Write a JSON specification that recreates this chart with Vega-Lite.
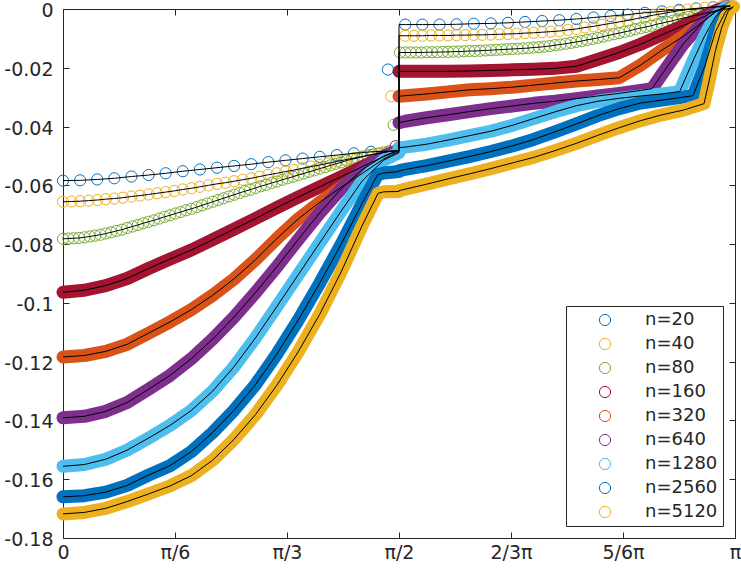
{
  "$schema": "https://vega.github.io/schema/vega-lite/v6.json",
  "width": 672,
  "height": 529,
  "autosize": {"type": "none"},
  "padding": {"left": 63, "top": 9, "right": 6, "bottom": 33},
  "config": {
    "view": {"stroke": null},
    "axis": {
      "grid": false, "title": null, "domainColor": "#262626", "tickColor": "#262626",
      "labelColor": "#262626", "labelFont": "DejaVu Sans", "labelFontSize": 19,
      "tickSize": -6, "domainWidth": 1, "tickWidth": 1, "labelFlush": false, "labelOverlap": false
    },
    "locale": {"number": {"decimal": ".", "thousands": ",", "grouping": [3], "currency": ["$", ""], "minus": "-"}}
  },
  "data": {
    "values": [
      {"n":"n=20","x":0,"y":-0.0584,"t":"p"},{"n":"n=20","x":0.08,"y":-0.0583,"t":"p"},{"n":"n=20","x":0.16,"y":-0.0580,"t":"p"},{"n":"n=20","x":0.24,"y":-0.0576,"t":"p"},
      {"n":"n=20","x":0.32,"y":-0.0570,"t":"p"},{"n":"n=20","x":0.4,"y":-0.0565,"t":"p"},{"n":"n=20","x":0.48,"y":-0.0559,"t":"p"},{"n":"n=20","x":0.56,"y":-0.0552,"t":"p"},
      {"n":"n=20","x":0.64,"y":-0.0546,"t":"p"},{"n":"n=20","x":0.72,"y":-0.0540,"t":"p"},{"n":"n=20","x":0.8,"y":-0.0534,"t":"p"},{"n":"n=20","x":0.88,"y":-0.0528,"t":"p"},
      {"n":"n=20","x":0.96,"y":-0.0521,"t":"p"},{"n":"n=20","x":1.04,"y":-0.0515,"t":"p"},{"n":"n=20","x":1.12,"y":-0.0509,"t":"p"},{"n":"n=20","x":1.2,"y":-0.0503,"t":"p"},
      {"n":"n=20","x":1.28,"y":-0.0497,"t":"p"},{"n":"n=20","x":1.36,"y":-0.0491,"t":"p"},{"n":"n=20","x":1.44,"y":-0.0486,"t":"p"},
      {"n":"n=20","x":1.519,"y":-0.0206,"t":"o"},{"n":"n=20","x":1.5707,"y":-0.0482,"t":"j"},{"n":"n=20","x":1.5709,"y":-0.0053,"t":"j"},
      {"n":"n=20","x":1.6,"y":-0.0053,"t":"p"},{"n":"n=20","x":1.68,"y":-0.0053,"t":"p"},{"n":"n=20","x":1.76,"y":-0.0053,"t":"p"},{"n":"n=20","x":1.84,"y":-0.0052,"t":"p"},
      {"n":"n=20","x":1.92,"y":-0.0050,"t":"p"},{"n":"n=20","x":2.0,"y":-0.0049,"t":"p"},{"n":"n=20","x":2.08,"y":-0.0047,"t":"p"},{"n":"n=20","x":2.16,"y":-0.0044,"t":"p"},
      {"n":"n=20","x":2.24,"y":-0.0041,"t":"p"},{"n":"n=20","x":2.32,"y":-0.0038,"t":"p"},{"n":"n=20","x":2.4,"y":-0.0034,"t":"p"},{"n":"n=20","x":2.48,"y":-0.0029,"t":"p"},
      {"n":"n=20","x":2.56,"y":-0.0024,"t":"p"},{"n":"n=20","x":2.64,"y":-0.0019,"t":"p"},{"n":"n=20","x":2.72,"y":-0.0013,"t":"p"},{"n":"n=20","x":2.8,"y":-0.0008,"t":"p"},
      {"n":"n=20","x":2.88,"y":-0.0003,"t":"p"},{"n":"n=20","x":2.96,"y":0.0002,"t":"p"},{"n":"n=20","x":3.04,"y":0.0006,"t":"p"},{"n":"n=20","x":3.12,"y":0.0009,"t":"p"},

      {"n":"n=40","x":0,"y":-0.0656,"t":"p"},{"n":"n=40","x":0.04,"y":-0.0655,"t":"p"},{"n":"n=40","x":0.08,"y":-0.0654,"t":"p"},{"n":"n=40","x":0.12,"y":-0.0652,"t":"p"},
      {"n":"n=40","x":0.16,"y":-0.0650,"t":"p"},{"n":"n=40","x":0.2,"y":-0.0647,"t":"p"},{"n":"n=40","x":0.24,"y":-0.0645,"t":"p"},{"n":"n=40","x":0.28,"y":-0.0642,"t":"p"},
      {"n":"n=40","x":0.32,"y":-0.0638,"t":"p"},{"n":"n=40","x":0.36,"y":-0.0635,"t":"p"},{"n":"n=40","x":0.4,"y":-0.0631,"t":"p"},{"n":"n=40","x":0.44,"y":-0.0627,"t":"p"},
      {"n":"n=40","x":0.48,"y":-0.0623,"t":"p"},{"n":"n=40","x":0.52,"y":-0.0619,"t":"p"},{"n":"n=40","x":0.56,"y":-0.0614,"t":"p"},{"n":"n=40","x":0.6,"y":-0.0610,"t":"p"},
      {"n":"n=40","x":0.64,"y":-0.0605,"t":"p"},{"n":"n=40","x":0.68,"y":-0.0600,"t":"p"},{"n":"n=40","x":0.72,"y":-0.0595,"t":"p"},{"n":"n=40","x":0.76,"y":-0.0591,"t":"p"},
      {"n":"n=40","x":0.8,"y":-0.0586,"t":"p"},{"n":"n=40","x":0.84,"y":-0.0581,"t":"p"},{"n":"n=40","x":0.88,"y":-0.0576,"t":"p"},{"n":"n=40","x":0.92,"y":-0.0570,"t":"p"},
      {"n":"n=40","x":0.96,"y":-0.0564,"t":"p"},{"n":"n=40","x":1.0,"y":-0.0559,"t":"p"},{"n":"n=40","x":1.04,"y":-0.0553,"t":"p"},{"n":"n=40","x":1.08,"y":-0.0548,"t":"p"},
      {"n":"n=40","x":1.12,"y":-0.0542,"t":"p"},{"n":"n=40","x":1.16,"y":-0.0536,"t":"p"},{"n":"n=40","x":1.2,"y":-0.0531,"t":"p"},{"n":"n=40","x":1.24,"y":-0.0525,"t":"p"},
      {"n":"n=40","x":1.28,"y":-0.0519,"t":"p"},{"n":"n=40","x":1.32,"y":-0.0513,"t":"p"},{"n":"n=40","x":1.36,"y":-0.0507,"t":"p"},{"n":"n=40","x":1.4,"y":-0.0502,"t":"p"},
      {"n":"n=40","x":1.44,"y":-0.0496,"t":"p"},{"n":"n=40","x":1.48,"y":-0.0491,"t":"p"},{"n":"n=40","x":1.52,"y":-0.0485,"t":"p"},
      {"n":"n=40","x":1.535,"y":-0.0297,"t":"o"},{"n":"n=40","x":1.5707,"y":-0.0482,"t":"j"},{"n":"n=40","x":1.5709,"y":-0.0091,"t":"j"},
      {"n":"n=40","x":1.6,"y":-0.0091,"t":"p"},{"n":"n=40","x":1.64,"y":-0.0091,"t":"p"},{"n":"n=40","x":1.68,"y":-0.0091,"t":"p"},{"n":"n=40","x":1.72,"y":-0.0090,"t":"p"},
      {"n":"n=40","x":1.76,"y":-0.0090,"t":"p"},{"n":"n=40","x":1.8,"y":-0.0090,"t":"p"},{"n":"n=40","x":1.84,"y":-0.0089,"t":"p"},{"n":"n=40","x":1.88,"y":-0.0089,"t":"p"},
      {"n":"n=40","x":1.92,"y":-0.0088,"t":"p"},{"n":"n=40","x":1.96,"y":-0.0088,"t":"p"},{"n":"n=40","x":2.0,"y":-0.0087,"t":"p"},{"n":"n=40","x":2.04,"y":-0.0086,"t":"p"},
      {"n":"n=40","x":2.08,"y":-0.0085,"t":"p"},{"n":"n=40","x":2.12,"y":-0.0084,"t":"p"},{"n":"n=40","x":2.16,"y":-0.0082,"t":"p"},{"n":"n=40","x":2.2,"y":-0.0081,"t":"p"},
      {"n":"n=40","x":2.24,"y":-0.0079,"t":"p"},{"n":"n=40","x":2.28,"y":-0.0077,"t":"p"},{"n":"n=40","x":2.32,"y":-0.0075,"t":"p"},{"n":"n=40","x":2.36,"y":-0.0071,"t":"p"},
      {"n":"n=40","x":2.4,"y":-0.0068,"t":"p"},{"n":"n=40","x":2.44,"y":-0.0063,"t":"p"},{"n":"n=40","x":2.48,"y":-0.0059,"t":"p"},{"n":"n=40","x":2.52,"y":-0.0054,"t":"p"},
      {"n":"n=40","x":2.56,"y":-0.0049,"t":"p"},{"n":"n=40","x":2.6,"y":-0.0044,"t":"p"},{"n":"n=40","x":2.64,"y":-0.0039,"t":"p"},{"n":"n=40","x":2.68,"y":-0.0033,"t":"p"},
      {"n":"n=40","x":2.72,"y":-0.0027,"t":"p"},{"n":"n=40","x":2.76,"y":-0.0021,"t":"p"},{"n":"n=40","x":2.8,"y":-0.0016,"t":"p"},{"n":"n=40","x":2.84,"y":-0.0011,"t":"p"},
      {"n":"n=40","x":2.88,"y":-0.0006,"t":"p"},{"n":"n=40","x":2.92,"y":-0.0002,"t":"p"},{"n":"n=40","x":2.96,"y":0.0001,"t":"p"},{"n":"n=40","x":3.0,"y":0.0004,"t":"p"},
      {"n":"n=40","x":3.04,"y":0.0007,"t":"p"},{"n":"n=40","x":3.08,"y":0.0010,"t":"p"},{"n":"n=40","x":3.12,"y":0.0011,"t":"p"},

      {"n":"n=80","x":0,"y":-0.0782,"t":"p"},{"n":"n=80","x":0.025,"y":-0.0781,"t":"p"},{"n":"n=80","x":0.05,"y":-0.0780,"t":"p"},{"n":"n=80","x":0.075,"y":-0.0779,"t":"p"},
      {"n":"n=80","x":0.1,"y":-0.0777,"t":"p"},{"n":"n=80","x":0.125,"y":-0.0774,"t":"p"},{"n":"n=80","x":0.15,"y":-0.0771,"t":"p"},{"n":"n=80","x":0.175,"y":-0.0768,"t":"p"},
      {"n":"n=80","x":0.2,"y":-0.0764,"t":"p"},{"n":"n=80","x":0.225,"y":-0.0760,"t":"p"},{"n":"n=80","x":0.25,"y":-0.0755,"t":"p"},{"n":"n=80","x":0.275,"y":-0.0751,"t":"p"},
      {"n":"n=80","x":0.3,"y":-0.0745,"t":"p"},{"n":"n=80","x":0.325,"y":-0.0740,"t":"p"},{"n":"n=80","x":0.35,"y":-0.0735,"t":"p"},{"n":"n=80","x":0.375,"y":-0.0729,"t":"p"},
      {"n":"n=80","x":0.4,"y":-0.0724,"t":"p"},{"n":"n=80","x":0.425,"y":-0.0719,"t":"p"},{"n":"n=80","x":0.45,"y":-0.0713,"t":"p"},{"n":"n=80","x":0.475,"y":-0.0707,"t":"p"},
      {"n":"n=80","x":0.5,"y":-0.0702,"t":"p"},{"n":"n=80","x":0.525,"y":-0.0696,"t":"p"},{"n":"n=80","x":0.55,"y":-0.0691,"t":"p"},{"n":"n=80","x":0.575,"y":-0.0685,"t":"p"},
      {"n":"n=80","x":0.6,"y":-0.0680,"t":"p"},{"n":"n=80","x":0.625,"y":-0.0674,"t":"p"},{"n":"n=80","x":0.65,"y":-0.0668,"t":"p"},{"n":"n=80","x":0.675,"y":-0.0662,"t":"p"},
      {"n":"n=80","x":0.7,"y":-0.0656,"t":"p"},{"n":"n=80","x":0.725,"y":-0.0650,"t":"p"},{"n":"n=80","x":0.75,"y":-0.0644,"t":"p"},{"n":"n=80","x":0.775,"y":-0.0638,"t":"p"},
      {"n":"n=80","x":0.8,"y":-0.0632,"t":"p"},{"n":"n=80","x":0.825,"y":-0.0626,"t":"p"},{"n":"n=80","x":0.85,"y":-0.0620,"t":"p"},{"n":"n=80","x":0.875,"y":-0.0615,"t":"p"},
      {"n":"n=80","x":0.9,"y":-0.0609,"t":"p"},{"n":"n=80","x":0.925,"y":-0.0603,"t":"p"},{"n":"n=80","x":0.95,"y":-0.0598,"t":"p"},{"n":"n=80","x":0.975,"y":-0.0592,"t":"p"},
      {"n":"n=80","x":1.0,"y":-0.0587,"t":"p"},{"n":"n=80","x":1.025,"y":-0.0581,"t":"p"},{"n":"n=80","x":1.05,"y":-0.0576,"t":"p"},{"n":"n=80","x":1.075,"y":-0.0571,"t":"p"},
      {"n":"n=80","x":1.1,"y":-0.0565,"t":"p"},{"n":"n=80","x":1.125,"y":-0.0560,"t":"p"},{"n":"n=80","x":1.15,"y":-0.0554,"t":"p"},{"n":"n=80","x":1.175,"y":-0.0549,"t":"p"},
      {"n":"n=80","x":1.2,"y":-0.0543,"t":"p"},{"n":"n=80","x":1.225,"y":-0.0538,"t":"p"},{"n":"n=80","x":1.25,"y":-0.0532,"t":"p"},{"n":"n=80","x":1.275,"y":-0.0527,"t":"p"},
      {"n":"n=80","x":1.3,"y":-0.0522,"t":"p"},{"n":"n=80","x":1.325,"y":-0.0516,"t":"p"},{"n":"n=80","x":1.35,"y":-0.0511,"t":"p"},{"n":"n=80","x":1.375,"y":-0.0507,"t":"p"},
      {"n":"n=80","x":1.4,"y":-0.0503,"t":"p"},{"n":"n=80","x":1.425,"y":-0.0498,"t":"p"},{"n":"n=80","x":1.45,"y":-0.0495,"t":"p"},{"n":"n=80","x":1.475,"y":-0.0492,"t":"p"},
      {"n":"n=80","x":1.5,"y":-0.0488,"t":"p"},{"n":"n=80","x":1.525,"y":-0.0485,"t":"p"},
      {"n":"n=80","x":1.546,"y":-0.0394,"t":"o"},{"n":"n=80","x":1.5707,"y":-0.0482,"t":"j"},{"n":"n=80","x":1.5709,"y":-0.0148,"t":"j"},
      {"n":"n=80","x":1.575,"y":-0.0148,"t":"p"},{"n":"n=80","x":1.6,"y":-0.0148,"t":"p"},{"n":"n=80","x":1.625,"y":-0.0148,"t":"p"},{"n":"n=80","x":1.65,"y":-0.0148,"t":"p"},
      {"n":"n=80","x":1.675,"y":-0.0148,"t":"p"},{"n":"n=80","x":1.7,"y":-0.0147,"t":"p"},{"n":"n=80","x":1.725,"y":-0.0147,"t":"p"},{"n":"n=80","x":1.75,"y":-0.0147,"t":"p"},
      {"n":"n=80","x":1.775,"y":-0.0146,"t":"p"},{"n":"n=80","x":1.8,"y":-0.0146,"t":"p"},{"n":"n=80","x":1.825,"y":-0.0145,"t":"p"},{"n":"n=80","x":1.85,"y":-0.0145,"t":"p"},
      {"n":"n=80","x":1.875,"y":-0.0144,"t":"p"},{"n":"n=80","x":1.9,"y":-0.0143,"t":"p"},{"n":"n=80","x":1.925,"y":-0.0143,"t":"p"},{"n":"n=80","x":1.95,"y":-0.0142,"t":"p"},
      {"n":"n=80","x":1.975,"y":-0.0141,"t":"p"},{"n":"n=80","x":2.0,"y":-0.0140,"t":"p"},{"n":"n=80","x":2.025,"y":-0.0139,"t":"p"},{"n":"n=80","x":2.05,"y":-0.0138,"t":"p"},
      {"n":"n=80","x":2.075,"y":-0.0137,"t":"p"},{"n":"n=80","x":2.1,"y":-0.0136,"t":"p"},{"n":"n=80","x":2.125,"y":-0.0135,"t":"p"},{"n":"n=80","x":2.15,"y":-0.0134,"t":"p"},
      {"n":"n=80","x":2.175,"y":-0.0133,"t":"p"},{"n":"n=80","x":2.2,"y":-0.0131,"t":"p"},{"n":"n=80","x":2.225,"y":-0.0130,"t":"p"},{"n":"n=80","x":2.25,"y":-0.0128,"t":"p"},
      {"n":"n=80","x":2.275,"y":-0.0126,"t":"p"},{"n":"n=80","x":2.3,"y":-0.0123,"t":"p"},{"n":"n=80","x":2.325,"y":-0.0121,"t":"p"},{"n":"n=80","x":2.35,"y":-0.0118,"t":"p"},
      {"n":"n=80","x":2.375,"y":-0.0115,"t":"p"},{"n":"n=80","x":2.4,"y":-0.0112,"t":"p"},{"n":"n=80","x":2.425,"y":-0.0109,"t":"p"},{"n":"n=80","x":2.45,"y":-0.0105,"t":"p"},
      {"n":"n=80","x":2.475,"y":-0.0102,"t":"p"},{"n":"n=80","x":2.5,"y":-0.0098,"t":"p"},{"n":"n=80","x":2.525,"y":-0.0094,"t":"p"},{"n":"n=80","x":2.55,"y":-0.0090,"t":"p"},
      {"n":"n=80","x":2.575,"y":-0.0086,"t":"p"},{"n":"n=80","x":2.6,"y":-0.0082,"t":"p"},{"n":"n=80","x":2.625,"y":-0.0078,"t":"p"},{"n":"n=80","x":2.65,"y":-0.0074,"t":"p"},
      {"n":"n=80","x":2.675,"y":-0.0069,"t":"p"},{"n":"n=80","x":2.7,"y":-0.0065,"t":"p"},{"n":"n=80","x":2.725,"y":-0.0061,"t":"p"},{"n":"n=80","x":2.75,"y":-0.0057,"t":"p"},
      {"n":"n=80","x":2.775,"y":-0.0052,"t":"p"},{"n":"n=80","x":2.8,"y":-0.0048,"t":"p"},{"n":"n=80","x":2.825,"y":-0.0044,"t":"p"},{"n":"n=80","x":2.85,"y":-0.0040,"t":"p"},
      {"n":"n=80","x":2.875,"y":-0.0035,"t":"p"},{"n":"n=80","x":2.9,"y":-0.0031,"t":"p"},{"n":"n=80","x":2.925,"y":-0.0027,"t":"p"},{"n":"n=80","x":2.95,"y":-0.0023,"t":"p"},
      {"n":"n=80","x":2.975,"y":-0.0019,"t":"p"},{"n":"n=80","x":3.0,"y":-0.0015,"t":"p"},{"n":"n=80","x":3.025,"y":-0.0011,"t":"p"},{"n":"n=80","x":3.05,"y":-0.0007,"t":"p"},
      {"n":"n=80","x":3.075,"y":-0.0004,"t":"p"},{"n":"n=80","x":3.1,"y":0.0000,"t":"p"},{"n":"n=80","x":3.125,"y":0.0003,"t":"p"},

      {"n":"n=160","x":0,"y":-0.0964,"t":"b"},{"n":"n=160","x":0.1,"y":-0.0957,"t":"b"},{"n":"n=160","x":0.2,"y":-0.0941,"t":"b"},{"n":"n=160","x":0.3,"y":-0.0917,"t":"b"},
      {"n":"n=160","x":0.4,"y":-0.0883,"t":"b"},{"n":"n=160","x":0.5,"y":-0.0851,"t":"b"},{"n":"n=160","x":0.6,"y":-0.0820,"t":"b"},{"n":"n=160","x":0.7,"y":-0.0785,"t":"b"},
      {"n":"n=160","x":0.8,"y":-0.0749,"t":"b"},{"n":"n=160","x":0.9,"y":-0.0713,"t":"b"},{"n":"n=160","x":1.0,"y":-0.0676,"t":"b"},{"n":"n=160","x":1.1,"y":-0.0640,"t":"b"},
      {"n":"n=160","x":1.2,"y":-0.0605,"t":"b"},{"n":"n=160","x":1.3,"y":-0.0571,"t":"b"},{"n":"n=160","x":1.4,"y":-0.0536,"t":"b"},{"n":"n=160","x":1.5,"y":-0.0502,"t":"b"},
      {"n":"n=160","x":1.5707,"y":-0.0482,"t":"b"},{"n":"n=160","x":1.555,"y":-0.0467,"t":"o"},
      {"n":"n=160","x":1.5709,"y":-0.0212,"t":"b"},{"n":"n=160","x":1.6,"y":-0.0212,"t":"b"},{"n":"n=160","x":1.7,"y":-0.0212,"t":"b"},{"n":"n=160","x":1.8,"y":-0.0212,"t":"b"},
      {"n":"n=160","x":1.9,"y":-0.0211,"t":"b"},{"n":"n=160","x":2.0,"y":-0.0209,"t":"b"},{"n":"n=160","x":2.1,"y":-0.0207,"t":"b"},{"n":"n=160","x":2.2,"y":-0.0205,"t":"b"},
      {"n":"n=160","x":2.3,"y":-0.0202,"t":"b"},{"n":"n=160","x":2.4,"y":-0.0195,"t":"b"},{"n":"n=160","x":2.5,"y":-0.0172,"t":"b"},{"n":"n=160","x":2.6,"y":-0.0148,"t":"b"},
      {"n":"n=160","x":2.7,"y":-0.0120,"t":"b"},{"n":"n=160","x":2.8,"y":-0.0088,"t":"b"},{"n":"n=160","x":2.9,"y":-0.0056,"t":"b"},{"n":"n=160","x":3.0,"y":-0.0025,"t":"b"},
      {"n":"n=160","x":3.05,"y":-0.0006,"t":"b"},{"n":"n=160","x":3.1,"y":0.0006,"t":"b"},

      {"n":"n=320","x":0,"y":-0.1184,"t":"b"},{"n":"n=320","x":0.1,"y":-0.1179,"t":"b"},{"n":"n=320","x":0.2,"y":-0.1165,"t":"b"},{"n":"n=320","x":0.3,"y":-0.1141,"t":"b"},
      {"n":"n=320","x":0.4,"y":-0.1103,"t":"b"},{"n":"n=320","x":0.5,"y":-0.1065,"t":"b"},{"n":"n=320","x":0.6,"y":-0.1023,"t":"b"},{"n":"n=320","x":0.7,"y":-0.0974,"t":"b"},
      {"n":"n=320","x":0.8,"y":-0.0918,"t":"b"},{"n":"n=320","x":0.9,"y":-0.0853,"t":"b"},{"n":"n=320","x":1.0,"y":-0.0781,"t":"b"},{"n":"n=320","x":1.1,"y":-0.0714,"t":"b"},
      {"n":"n=320","x":1.2,"y":-0.0658,"t":"b"},{"n":"n=320","x":1.3,"y":-0.0607,"t":"b"},{"n":"n=320","x":1.4,"y":-0.0559,"t":"b"},{"n":"n=320","x":1.5,"y":-0.0510,"t":"b"},
      {"n":"n=320","x":1.5707,"y":-0.0485,"t":"b"},
      {"n":"n=320","x":1.5709,"y":-0.0297,"t":"b"},{"n":"n=320","x":1.6,"y":-0.0295,"t":"b"},{"n":"n=320","x":1.7,"y":-0.0289,"t":"b"},{"n":"n=320","x":1.8,"y":-0.0282,"t":"b"},
      {"n":"n=320","x":1.9,"y":-0.0275,"t":"b"},{"n":"n=320","x":2.0,"y":-0.0271,"t":"b"},{"n":"n=320","x":2.1,"y":-0.0266,"t":"b"},{"n":"n=320","x":2.2,"y":-0.0259,"t":"b"},
      {"n":"n=320","x":2.3,"y":-0.0252,"t":"b"},{"n":"n=320","x":2.4,"y":-0.0245,"t":"b"},{"n":"n=320","x":2.5,"y":-0.0240,"t":"b"},{"n":"n=320","x":2.6,"y":-0.0234,"t":"b"},
      {"n":"n=320","x":2.7,"y":-0.0191,"t":"b"},{"n":"n=320","x":2.8,"y":-0.0140,"t":"b"},{"n":"n=320","x":2.9,"y":-0.0093,"t":"b"},{"n":"n=320","x":3.0,"y":-0.0039,"t":"b"},
      {"n":"n=320","x":3.05,"y":-0.0011,"t":"b"},{"n":"n=320","x":3.1,"y":0.0006,"t":"b"},

      {"n":"n=640","x":0,"y":-0.1391,"t":"b"},{"n":"n=640","x":0.1,"y":-0.1386,"t":"b"},{"n":"n=640","x":0.2,"y":-0.1369,"t":"b"},{"n":"n=640","x":0.3,"y":-0.1339,"t":"b"},
      {"n":"n=640","x":0.4,"y":-0.1294,"t":"b"},{"n":"n=640","x":0.5,"y":-0.1247,"t":"b"},{"n":"n=640","x":0.6,"y":-0.1190,"t":"b"},{"n":"n=640","x":0.7,"y":-0.1123,"t":"b"},
      {"n":"n=640","x":0.8,"y":-0.1048,"t":"b"},{"n":"n=640","x":0.9,"y":-0.0965,"t":"b"},{"n":"n=640","x":1.0,"y":-0.0877,"t":"b"},{"n":"n=640","x":1.1,"y":-0.0784,"t":"b"},
      {"n":"n=640","x":1.2,"y":-0.0694,"t":"b"},{"n":"n=640","x":1.3,"y":-0.0612,"t":"b"},{"n":"n=640","x":1.4,"y":-0.0546,"t":"b"},{"n":"n=640","x":1.5,"y":-0.0500,"t":"b"},
      {"n":"n=640","x":1.5707,"y":-0.0480,"t":"b"},
      {"n":"n=640","x":1.5709,"y":-0.0387,"t":"b"},{"n":"n=640","x":1.6,"y":-0.0382,"t":"b"},{"n":"n=640","x":1.7,"y":-0.0370,"t":"b"},{"n":"n=640","x":1.8,"y":-0.0360,"t":"b"},
      {"n":"n=640","x":1.9,"y":-0.0349,"t":"b"},{"n":"n=640","x":2.0,"y":-0.0339,"t":"b"},{"n":"n=640","x":2.1,"y":-0.0330,"t":"b"},{"n":"n=640","x":2.2,"y":-0.0321,"t":"b"},
      {"n":"n=640","x":2.3,"y":-0.0314,"t":"b"},{"n":"n=640","x":2.4,"y":-0.0305,"t":"b"},{"n":"n=640","x":2.5,"y":-0.0296,"t":"b"},{"n":"n=640","x":2.6,"y":-0.0287,"t":"b"},
      {"n":"n=640","x":2.7,"y":-0.0277,"t":"b"},{"n":"n=640","x":2.754,"y":-0.0271,"t":"b"},{"n":"n=640","x":2.8,"y":-0.0222,"t":"b"},{"n":"n=640","x":2.9,"y":-0.0119,"t":"b"},
      {"n":"n=640","x":3.0,"y":-0.0038,"t":"b"},{"n":"n=640","x":3.05,"y":-0.0009,"t":"b"},{"n":"n=640","x":3.1,"y":0.0008,"t":"b"},

      {"n":"n=1280","x":0,"y":-0.1556,"t":"b"},{"n":"n=1280","x":0.1,"y":-0.1550,"t":"b"},{"n":"n=1280","x":0.2,"y":-0.1532,"t":"b"},{"n":"n=1280","x":0.3,"y":-0.1501,"t":"b"},
      {"n":"n=1280","x":0.4,"y":-0.1460,"t":"b"},{"n":"n=1280","x":0.5,"y":-0.1417,"t":"b"},{"n":"n=1280","x":0.6,"y":-0.1366,"t":"b"},{"n":"n=1280","x":0.7,"y":-0.1300,"t":"b"},
      {"n":"n=1280","x":0.8,"y":-0.1217,"t":"b"},{"n":"n=1280","x":0.9,"y":-0.1119,"t":"b"},{"n":"n=1280","x":1.0,"y":-0.1012,"t":"b"},{"n":"n=1280","x":1.1,"y":-0.0904,"t":"b"},
      {"n":"n=1280","x":1.2,"y":-0.0796,"t":"b"},{"n":"n=1280","x":1.3,"y":-0.0688,"t":"b"},{"n":"n=1280","x":1.4,"y":-0.0584,"t":"b"},{"n":"n=1280","x":1.5,"y":-0.0514,"t":"b"},
      {"n":"n=1280","x":1.5707,"y":-0.0489,"t":"b"},
      {"n":"n=1280","x":1.5709,"y":-0.0472,"t":"b"},{"n":"n=1280","x":1.6,"y":-0.0470,"t":"b"},{"n":"n=1280","x":1.7,"y":-0.0460,"t":"b"},{"n":"n=1280","x":1.8,"y":-0.0446,"t":"b"},
      {"n":"n=1280","x":1.9,"y":-0.0431,"t":"b"},{"n":"n=1280","x":2.0,"y":-0.0416,"t":"b"},{"n":"n=1280","x":2.1,"y":-0.0396,"t":"b"},{"n":"n=1280","x":2.2,"y":-0.0373,"t":"b"},
      {"n":"n=1280","x":2.3,"y":-0.0350,"t":"b"},{"n":"n=1280","x":2.4,"y":-0.0329,"t":"b"},{"n":"n=1280","x":2.5,"y":-0.0314,"t":"b"},{"n":"n=1280","x":2.6,"y":-0.0304,"t":"b"},
      {"n":"n=1280","x":2.7,"y":-0.0296,"t":"b"},{"n":"n=1280","x":2.8,"y":-0.0289,"t":"b"},{"n":"n=1280","x":2.883,"y":-0.0281,"t":"b"},{"n":"n=1280","x":2.95,"y":-0.0169,"t":"b"},
      {"n":"n=1280","x":3.0,"y":-0.0091,"t":"b"},{"n":"n=1280","x":3.05,"y":-0.0026,"t":"b"},{"n":"n=1280","x":3.1,"y":0.0006,"t":"b"},

      {"n":"n=2560","x":0,"y":-0.1660,"t":"b"},{"n":"n=2560","x":0.1,"y":-0.1656,"t":"b"},{"n":"n=2560","x":0.2,"y":-0.1644,"t":"b"},{"n":"n=2560","x":0.3,"y":-0.1621,"t":"b"},
      {"n":"n=2560","x":0.4,"y":-0.1586,"t":"b"},{"n":"n=2560","x":0.5,"y":-0.1554,"t":"b"},{"n":"n=2560","x":0.6,"y":-0.1506,"t":"b"},{"n":"n=2560","x":0.7,"y":-0.1441,"t":"b"},
      {"n":"n=2560","x":0.8,"y":-0.1365,"t":"b"},{"n":"n=2560","x":0.9,"y":-0.1278,"t":"b"},{"n":"n=2560","x":1.0,"y":-0.1174,"t":"b"},{"n":"n=2560","x":1.1,"y":-0.1058,"t":"b"},
      {"n":"n=2560","x":1.2,"y":-0.0933,"t":"b"},{"n":"n=2560","x":1.3,"y":-0.0801,"t":"b"},{"n":"n=2560","x":1.4,"y":-0.0659,"t":"b"},{"n":"n=2560","x":1.471,"y":-0.0564,"t":"b"},
      {"n":"n=2560","x":1.5,"y":-0.0558,"t":"b"},{"n":"n=2560","x":1.5707,"y":-0.0553,"t":"b"},
      {"n":"n=2560","x":1.5709,"y":-0.0550,"t":"b"},{"n":"n=2560","x":1.6,"y":-0.0546,"t":"b"},{"n":"n=2560","x":1.7,"y":-0.0533,"t":"b"},{"n":"n=2560","x":1.8,"y":-0.0518,"t":"b"},
      {"n":"n=2560","x":1.9,"y":-0.0502,"t":"b"},{"n":"n=2560","x":2.0,"y":-0.0485,"t":"b"},{"n":"n=2560","x":2.1,"y":-0.0466,"t":"b"},{"n":"n=2560","x":2.2,"y":-0.0444,"t":"b"},
      {"n":"n=2560","x":2.3,"y":-0.0418,"t":"b"},{"n":"n=2560","x":2.4,"y":-0.0391,"t":"b"},{"n":"n=2560","x":2.5,"y":-0.0363,"t":"b"},{"n":"n=2560","x":2.6,"y":-0.0339,"t":"b"},
      {"n":"n=2560","x":2.7,"y":-0.0320,"t":"b"},{"n":"n=2560","x":2.8,"y":-0.0310,"t":"b"},{"n":"n=2560","x":2.9,"y":-0.0300,"t":"b"},{"n":"n=2560","x":2.945,"y":-0.0295,"t":"b"},
      {"n":"n=2560","x":3.0,"y":-0.0196,"t":"b"},{"n":"n=2560","x":3.05,"y":-0.0077,"t":"b"},{"n":"n=2560","x":3.1,"y":-0.0006,"t":"b"},{"n":"n=2560","x":3.13,"y":0.0006,"t":"b"},

      {"n":"n=5120","x":0,"y":-0.1718,"t":"b"},{"n":"n=5120","x":0.1,"y":-0.1713,"t":"b"},{"n":"n=5120","x":0.2,"y":-0.1699,"t":"b"},{"n":"n=5120","x":0.3,"y":-0.1676,"t":"b"},
      {"n":"n=5120","x":0.4,"y":-0.1650,"t":"b"},{"n":"n=5120","x":0.5,"y":-0.1623,"t":"b"},{"n":"n=5120","x":0.6,"y":-0.1588,"t":"b"},{"n":"n=5120","x":0.7,"y":-0.1535,"t":"b"},
      {"n":"n=5120","x":0.8,"y":-0.1464,"t":"b"},{"n":"n=5120","x":0.9,"y":-0.1380,"t":"b"},{"n":"n=5120","x":1.0,"y":-0.1280,"t":"b"},{"n":"n=5120","x":1.1,"y":-0.1166,"t":"b"},
      {"n":"n=5120","x":1.2,"y":-0.1039,"t":"b"},{"n":"n=5120","x":1.3,"y":-0.0895,"t":"b"},{"n":"n=5120","x":1.4,"y":-0.0735,"t":"b"},{"n":"n=5120","x":1.473,"y":-0.0627,"t":"b"},
      {"n":"n=5120","x":1.5,"y":-0.0622,"t":"b"},{"n":"n=5120","x":1.5707,"y":-0.0621,"t":"b"},
      {"n":"n=5120","x":1.5709,"y":-0.0618,"t":"b"},{"n":"n=5120","x":1.6,"y":-0.0613,"t":"b"},{"n":"n=5120","x":1.7,"y":-0.0596,"t":"b"},{"n":"n=5120","x":1.8,"y":-0.0578,"t":"b"},
      {"n":"n=5120","x":1.9,"y":-0.0561,"t":"b"},{"n":"n=5120","x":2.0,"y":-0.0543,"t":"b"},{"n":"n=5120","x":2.1,"y":-0.0524,"t":"b"},{"n":"n=5120","x":2.2,"y":-0.0505,"t":"b"},
      {"n":"n=5120","x":2.3,"y":-0.0482,"t":"b"},{"n":"n=5120","x":2.4,"y":-0.0457,"t":"b"},{"n":"n=5120","x":2.5,"y":-0.0430,"t":"b"},{"n":"n=5120","x":2.6,"y":-0.0404,"t":"b"},
      {"n":"n=5120","x":2.7,"y":-0.0380,"t":"b"},{"n":"n=5120","x":2.8,"y":-0.0360,"t":"b"},{"n":"n=5120","x":2.9,"y":-0.0344,"t":"b"},{"n":"n=5120","x":2.997,"y":-0.0322,"t":"b"},
      {"n":"n=5120","x":3.02,"y":-0.0247,"t":"b"},{"n":"n=5120","x":3.05,"y":-0.0142,"t":"b"},{"n":"n=5120","x":3.08,"y":-0.0062,"t":"b"},{"n":"n=5120","x":3.11,"y":-0.0007,"t":"b"},
      {"n":"n=5120","x":3.135,"y":0.0008,"t":"b"}
    ]
  },
  "resolve": {"axis": {"x": "independent", "y": "independent"}},
  "layer": [
    {
      "transform": [{"filter": "datum.t == 'p' || datum.t == 'o'"}],
      "mark": {"type": "point", "shape": "circle", "filled": false, "size": 125, "strokeWidth": 1, "opacity": 1},
      "encoding": {
        "x": {"field": "x", "type": "quantitative", "scale": {"domain": [0, 3.1415927], "nice": false, "zero": false},
          "axis": {"orient": "bottom", "values": [0, 0.5235988, 1.0471976, 1.5707963, 2.0943951, 2.6179939, 3.1415927],
            "labelExpr": "['0','π/6','π/3','π/2','2/3π','5/6π','π'][round(datum.value*6/PI)]", "labelPadding": 11}},
        "y": {"field": "y", "type": "quantitative", "scale": {"domain": [-0.18, 0], "nice": false, "zero": false},
          "axis": {"orient": "left", "values": [-0.18, -0.16, -0.14, -0.12, -0.1, -0.08, -0.06, -0.04, -0.02, 0], "format": ".2~f", "labelPadding": 16, "labelOffset": 1.5}},
        "color": {"field": "n", "type": "nominal",
          "scale": {"domain": ["n=20", "n=40", "n=80", "n=160", "n=320", "n=640", "n=1280", "n=2560", "n=5120"],
            "range": ["#0072BD", "#EDB120", "#77AC30", "#A2142F", "#D95319", "#7E2F8E", "#4DBEEE", "#0072BD", "#EDB120"]},
          "legend": {"orient": "none", "legendX": 503, "legendY": 297, "title": null, "symbolType": "circle", "symbolSize": 125,
            "symbolStrokeWidth": 1, "labelFont": "DejaVu Sans", "labelFontSize": 18, "labelColor": "#262626",
            "padding": 5, "rowPadding": 6, "columnPadding": 0, "labelOffset": 31, "symbolOffset": 25, "strokeColor": "#262626", "fillColor": "white"}}
      }
    },
    {
      "transform": [{"filter": "datum.t == 'b' && datum.x < 1.5708"}],
      "mark": {"type": "line", "strokeWidth": 13, "strokeCap": "round", "strokeJoin": "round"},
      "encoding": {
        "x": {"field": "x", "type": "quantitative", "axis": null},
        "y": {"field": "y", "type": "quantitative", "axis": null},
        "stroke": {"field": "n", "type": "nominal", "legend": null,
          "scale": {"domain": ["n=20", "n=40", "n=80", "n=160", "n=320", "n=640", "n=1280", "n=2560", "n=5120"],
            "range": ["#0072BD", "#EDB120", "#77AC30", "#A2142F", "#D95319", "#7E2F8E", "#4DBEEE", "#0072BD", "#EDB120"]}}
      }
    },
    {
      "transform": [{"filter": "datum.t == 'b' && datum.x > 1.5708"}],
      "mark": {"type": "line", "strokeWidth": 13, "strokeCap": "round", "strokeJoin": "round"},
      "encoding": {
        "x": {"field": "x", "type": "quantitative", "axis": null},
        "y": {"field": "y", "type": "quantitative", "axis": null},
        "stroke": {"field": "n", "type": "nominal", "legend": null}
      }
    },
    {
      "transform": [{"filter": "datum.t != 'o'"}],
      "mark": {"type": "line", "color": "black", "strokeWidth": 1},
      "encoding": {
        "x": {"field": "x", "type": "quantitative",
          "axis": {"orient": "top", "labels": false, "values": [0, 0.5235988, 1.0471976, 1.5707963, 2.0943951, 2.6179939, 3.1415927]}},
        "y": {"field": "y", "type": "quantitative",
          "axis": {"orient": "right", "labels": false, "values": [-0.18, -0.16, -0.14, -0.12, -0.1, -0.08, -0.06, -0.04, -0.02, 0]}},
        "detail": {"field": "n", "type": "nominal"}
      }
    }
  ]
}
